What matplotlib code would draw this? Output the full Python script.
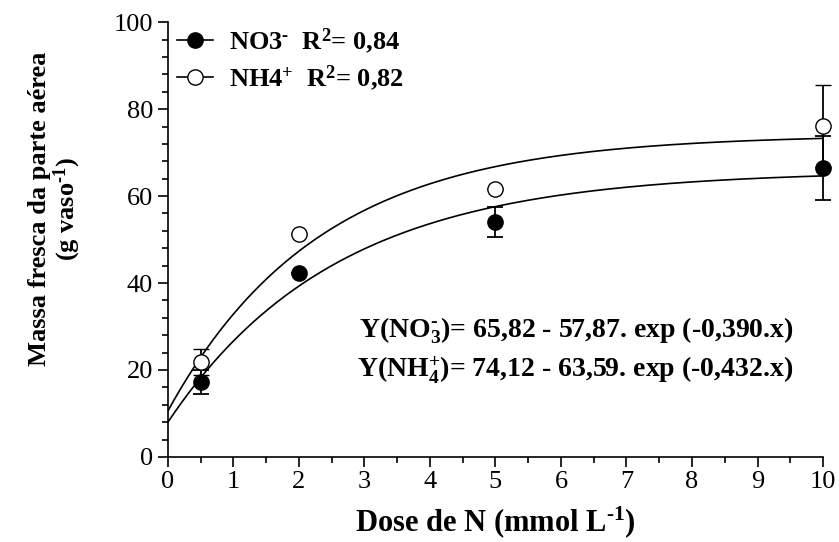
import numpy as np
import matplotlib.pyplot as plt
from matplotlib.ticker import MultipleLocator
from matplotlib.lines import Line2D

plt.rcParams["font.family"] = ["Liberation Serif", "DejaVu Serif"]
plt.rcParams["mathtext.fontset"] = "custom"
plt.rcParams["mathtext.rm"] = "Liberation Serif:bold"
plt.rcParams["mathtext.bf"] = "Liberation Serif:bold"
plt.rcParams["mathtext.it"] = "Liberation Serif:bold"

dose = [0.5, 2, 5, 10]

no3_mean = [17.2, 42.2, 54.0, 66.4]
no3_err = [2.8, 0, 3.5, 7.4]
nh4_mean = [21.8, 51.3, 61.6, 76.1]
nh4_err = [3.0, 0, 0, 9.4]

# fitted models: Y = a - b * exp(-c * x)
no3_fit = (65.82, 57.87, 0.390)
nh4_fit = (74.12, 63.59, 0.432)

fig = plt.figure(figsize=(8.39, 5.42), dpi=100)
ax = fig.add_axes([0.2, 0.157, 0.781, 0.802])

xs = np.linspace(0, 10, 300)
for a, b, c in (no3_fit, nh4_fit):
    ax.plot(xs, a - b * np.exp(-c * xs), color="black", lw=1.2, zorder=2)

ax.errorbar(dose, no3_mean, yerr=no3_err, fmt="o", ms=11, mfc="black",
            mec="black", ecolor="black", elinewidth=1.3, capsize=6,
            capthick=1.3, zorder=3, clip_on=False)
ax.errorbar(dose, nh4_mean, yerr=nh4_err, fmt="o", ms=11, mfc="white",
            mec="black", mew=1.0, ecolor="black", elinewidth=1.3, capsize=6,
            capthick=1.3, zorder=4, clip_on=False)

ax.set_xlim(0, 10)
ax.set_ylim(0, 100)
ax.xaxis.set_major_locator(MultipleLocator(1))
ax.xaxis.set_minor_locator(MultipleLocator(0.5))
ax.yaxis.set_major_locator(MultipleLocator(20))
ax.yaxis.set_minor_locator(MultipleLocator(4))
ax.spines["top"].set_visible(False)
ax.spines["right"].set_visible(False)
for s in ("left", "bottom"):
    ax.spines[s].set_linewidth(1.2)
ax.tick_params(which="major", direction="out", length=7, width=1.2,
               labelsize=19)
ax.tick_params(which="minor", direction="out", length=4, width=1.2)

ax.set_xlabel(r"Dose de N (mmol L$^{\text{-1}}$)", fontsize=22,
              fontweight="bold")
ax.xaxis.set_label_coords(0.5, -0.11)
ax.set_ylabel("Massa fresca da parte aérea\n(g vaso$^{\\text{-1}}$)",
              fontsize=19, fontweight="bold", linespacing=1.0)
ax.yaxis.set_label_coords(-0.13, 0.57)

handles = [
    Line2D([], [], color="black", lw=1.2, marker="o", ms=11, mfc="black",
           mec="black"),
    Line2D([], [], color="black", lw=1.2, marker="o", ms=11, mfc="white",
           mec="black"),
]
labels = [r"NO3$^{\text{-}}$  R$^{2}$= 0,84", r"NH4$^{+}$  R$^{2}$= 0,82"]
ax.legend(handles, labels, loc="upper left", bbox_to_anchor=(-0.022, 1.045),
          frameon=False, prop={"weight": "bold", "size": 19},
          handlelength=1.35, handletextpad=0.6, labelspacing=0.25)

ax.text(9.55, 29, r"Y(NO$_{3}^{\text{-}}$)= 65,82 - 57,87. exp (-0,390.x)",
        ha="right", va="center", fontsize=20, fontweight="bold")
ax.text(9.55, 19.8, r"Y(NH$_{4}^{+}$)= 74,12 - 63,59. exp (-0,432.x)",
        ha="right", va="center", fontsize=20, fontweight="bold")

fig.savefig("out.png", dpi=100)
